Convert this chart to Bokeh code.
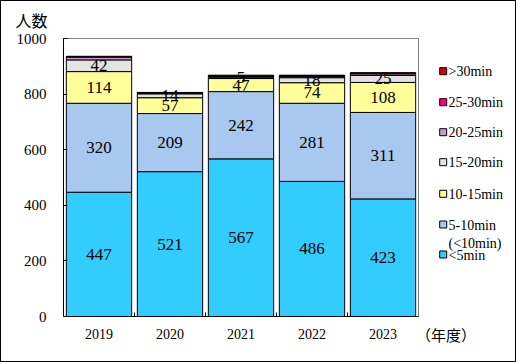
from bokeh.plotting import figure
from bokeh.models import Range1d, FixedTicker, ColumnDataSource
from bokeh.layouts import row
from bokeh.embed import file_html
from bokeh.resources import INLINE
from bokeh.core.properties import value

# ---- data ----
years = ["2019", "2020", "2021", "2022", "2023"]
lt5 = [447, 521, 567, 486, 423]
m5_10 = [320, 209, 242, 281, 311]
m10_15 = [114, 57, 47, 74, 108]
m15_20 = [42, 14, 5, 18, 25]
m20_25 = [10, 3, 2, 5, 6]
m25_30 = [2, 1, 2, 2, 2]
gt30 = [1, 1, 3, 2, 2]
series_labels = ["<5min", "5-10min\n(<10min)", "10-15min", "15-20min",
                 "20-25min", "25-30min", ">30min"]
y_ticks = [0, 200, 400, 600, 800, 1000]
y_title = "人数"
x_title = "（年度）"

colors = ["#33CCFF", "#A8C8F0", "#FFFF99", "#E3E3E3", "#CC99CC", "#FF0080", "#E00000"]
series = [lt5, m5_10, m10_15, m15_20, m20_25, m25_30, gt30]
keys = ["s%d" % i for i in range(len(series))]
xs = list(range(len(years)))

data = {"x": xs}
for k, s in zip(keys, series):
    data[k] = s
src = ColumnDataSource(data)

SERIF = "Liberation Serif"
CJK = "Noto Sans CJK JP"
TOP, BOTTOM = 37, 45

p = figure(width=420, height=360, x_range=Range1d(-0.5, len(years) - 0.5),
           y_range=Range1d(0, 1000), output_backend="svg", toolbar_location=None,
           min_border_left=62, min_border_right=3, min_border_top=TOP,
           min_border_bottom=BOTTOM, title=y_title)
p.title.text_font = CJK
p.title.text_font_size = "16px"
p.title.text_font_style = "normal"
p.title.text_color = "black"
p.title.align = "left"
p.title.vertical_align = "top"
p.title.offset = -48
p.title.standoff = 9

p.vbar_stack(keys, x="x", width=0.92, fill_color=colors, line_color="black",
             line_width=1, source=src)

# value labels for first four series
lx, ly, lt = [], [], []
for j in range(len(years)):
    base = 0
    for i, s in enumerate(series):
        if i < 4:
            lx.append(xs[j]); ly.append(base + s[j] / 2); lt.append(str(s[j]))
        base += s[j]
p.text(x=lx, y=ly, text=lt, text_font=value(SERIF), text_font_size="17px",
       text_align="center", text_baseline="middle", text_color="black")

p.grid.visible = False
p.outline_line_color = "#808080"
p.background_fill_color = "white"
p.border_fill_color = "white"

p.xaxis.ticker = FixedTicker(ticks=xs, minor_ticks=[i + 0.5 for i in xs[:-1]])
p.xaxis.major_label_overrides = {i: y for i, y in zip(xs, years)}
p.xaxis.major_tick_line_color = None
p.xaxis.minor_tick_in = 4
p.xaxis.minor_tick_out = 0
p.xaxis.minor_tick_line_color = "black"
p.xaxis.major_label_text_font = SERIF
p.xaxis.major_label_text_font_size = "14px"
p.xaxis.major_label_text_color = "black"
p.xaxis.major_label_standoff = 6
p.xaxis.axis_line_color = "black"

p.yaxis.ticker = FixedTicker(ticks=y_ticks)
p.yaxis.major_tick_in = 4
p.yaxis.major_tick_out = 0
p.yaxis.minor_tick_line_color = None
p.yaxis.major_label_text_font = SERIF
p.yaxis.major_label_text_font_size = "15px"
p.yaxis.major_label_text_color = "black"
p.yaxis.major_label_standoff = 17
p.yaxis.axis_line_color = "black"

# ---- legend panel (transparent, overlapping the right edge of the chart) ----
Q0 = 400
q = figure(width=514 - Q0, height=360, x_range=Range1d(Q0, 514),
           y_range=Range1d(360 - BOTTOM, TOP),
           output_backend="svg", toolbar_location=None, min_border_left=0,
           min_border_right=0, min_border_top=TOP, min_border_bottom=BOTTOM,
           y_axis_location=None)
q.margin = (0, 0, 0, Q0 - 420)
q.grid.visible = False
q.outline_line_color = None
q.background_fill_color = None
q.border_fill_color = None

yr_x = 444.5
q.xaxis.ticker = FixedTicker(ticks=[yr_x])
q.xaxis.major_label_overrides = {yr_x: x_title}
q.xaxis.major_label_text_font = CJK
q.xaxis.major_label_text_font_size = "15px"
q.xaxis.major_label_text_color = "black"
q.xaxis.major_label_standoff = 1
q.xaxis.major_tick_line_color = None
q.xaxis.minor_tick_line_color = None
q.xaxis.axis_line_color = None

row_y = [253, 223, 192.3, 160.7, 130.7, 100.7, 69.7]
q.rect(x=[441.7] * len(colors), y=row_y, width=7, height=7, fill_color=colors,
       line_color="black", line_width=1)
q.text(x=[447] * len(colors), y=[yy - 7 for yy in row_y], text=series_labels,
       text_font=value(SERIF), text_font_size="14px", text_align="left",
       text_baseline="top", text_color="black", text_line_height=1.2)

layout = row(p, q, styles={"border": "1px solid black"})
open("out.html", "w").write(file_html(layout, INLINE))
